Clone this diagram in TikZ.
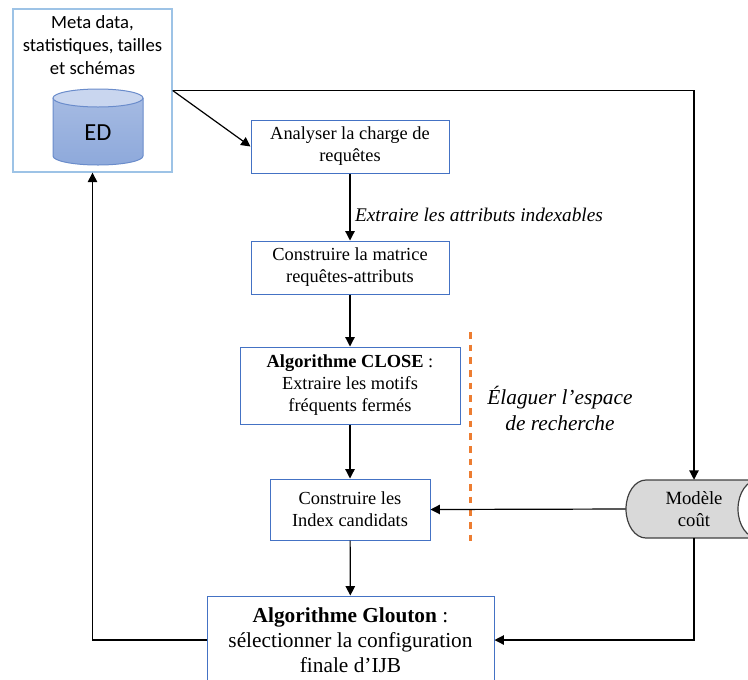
\documentclass[tikz,border=0pt]{standalone}
\usepackage{fontspec}
\setmainfont{Liberation Serif}
\newfontfamily\calibri{Carlito}
\usetikzlibrary{arrows.meta}

\definecolor{boxblue}{HTML}{4472C4}
\definecolor{lightblue}{HTML}{9DC3E6}
\definecolor{edtop}{HTML}{C9D6EF}
\definecolor{edbody}{HTML}{8EA9DB}
\definecolor{edline}{HTML}{6A8CCB}
\definecolor{pruneorange}{HTML}{ED7D31}
\definecolor{costgray}{HTML}{D9D9D9}

\begin{document}
\begin{tikzpicture}[x=0.75pt,y=-0.75pt,
    stepbox/.style={draw=boxblue,line width=0.75pt,fill=white,align=center,
      font=\fontsize{13.8}{16.5}\selectfont},
    arr/.style={line width=0.9pt,-{Triangle[width=7pt,length=7pt]}}]
        \useasboundingbox (0,0) rectangle (748,679);
        \clip (0,0) rectangle (748,679);

        % entrepot
        \node[draw=lightblue,line width=1pt,fill=white,minimum width=119.25pt,minimum height=122.25pt] (meta) at (92.5,90.5) {};
        \node[anchor=north,align=center,font=\calibri\fontsize{14}{17}\selectfont] (metatxt) at (92.5,11) {Meta data,\\statistiques, tailles\\et schémas};
        \shade[top color=edbody!80,bottom color=edbody] (53,98) -- (53,156) arc[start angle=180,end angle=360,x radius=33.75pt,y radius=6.75pt] -- (143,98) -- cycle;
        \draw[edline,line width=0.75pt] (53,98) -- (53,156) arc[start angle=180,end angle=360,x radius=33.75pt,y radius=6.75pt] -- (143,98);
        \draw[edline,line width=0.75pt,fill=edtop] (98,98) ellipse[x radius=33.75pt,y radius=6.75pt];
        \node[font=\calibri\fontsize{18.4}{20}\selectfont] (ed) at (98,133) {ED};

        % etapes
        \node[stepbox,minimum width=148.5pt,minimum height=39.75pt] (analyser) at (350,146.5) {Analyser la charge de\\requêtes};
        \node[stepbox,minimum width=148.5pt,minimum height=39.75pt] (matrice) at (350,267.5) {Construire la matrice\\requêtes-attributs};
        \node[stepbox,minimum width=165pt,minimum height=57.75pt] (close) at (350,385.5) {\textbf{Algorithme CLOSE} :\\Extraire les motifs\\fréquents fermés};
        \node[stepbox,minimum width=120pt,minimum height=45.75pt] (index) at (350,509.5) {Construire les\\Index candidats};
        \node[stepbox,minimum width=215.25pt,minimum height=66pt,font=\fontsize{16}{18.75}\selectfont] (glouton) at (350.5,640) {\textbf{Algorithme Glouton} :\\sélectionner la configuration\\finale d’IJB};

        % modele de cout
        \draw[line width=0.9pt,draw=black!75,fill=costgray] (646,480) arc[start angle=90,end angle=270,x radius=15pt,y radius=21.75pt] -- (758,538) arc[start angle=-90,end angle=90,x radius=15pt,y radius=21.75pt] -- cycle;
        \draw[line width=0.9pt,draw=black!75,fill=white] (758,509) ellipse[x radius=15pt,y radius=21.75pt];
        \node[align=center,minimum width=102pt,minimum height=43.5pt,font=\fontsize{14}{16}\selectfont] (cout) at (694,509) {Modèle\\coût};

        % elagage
        \draw[pruneorange,line width=1.8pt,dash pattern=on 5pt off 4.5pt] (470.5,332) -- (470.5,546);
        \node[align=center,font=\itshape\fontsize{16}{19.5}\selectfont] (elaguer) at (560,408) {Élaguer l’espace\\de recherche};

        % liens
        \draw[arr] (meta.east) -- (analyser.west);
        \draw[arr] (meta.east) -| (cout.north);
        \draw[arr] (analyser) -- (matrice) node[pos=0.62,right,font=\itshape\fontsize{14.5}{17}\selectfont] {Extraire les attributs indexables};
        \foreach \a/\b in {matrice/close,close/index,index/glouton} {
          \draw[arr] (\a) -- (\b);
        }
        \draw[arr] (cout.west) -- (index.east);
        \draw[arr] (cout.south) |- (glouton.east);
        \draw[arr] (glouton.west) -| (meta.south);
\end{tikzpicture}
\end{document}
